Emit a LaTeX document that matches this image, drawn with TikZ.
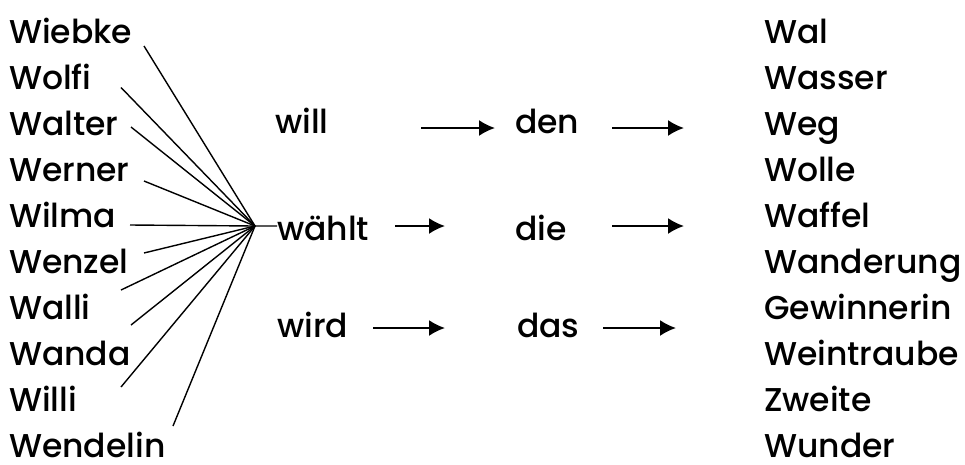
\documentclass[tikz,border=0pt]{standalone}
\usepackage{fontspec}
\setmainfont{Poppins}[UprightFont=* Medium]
\usetikzlibrary{arrows.meta,positioning}
\tikzset{font={\fontsize{33pt}{38}\selectfont}}

\begin{document}
\begin{tikzpicture}[x=1pt,y=-1pt,
word/.style={inner sep=0pt,anchor=base west},
fan/.style={line width=1.4pt},
arr/.style={line width=2pt,-{Latex[length=16pt,width=16pt]}}
]
\useasboundingbox (0,0) rectangle (965,464);
% names on the left
\foreach \n/\name [count=\i from 0] in {wiebke/Wiebke,wolfi/Wolfi,walter/Walter,werner/Werner,wilma/Wilma,wenzel/Wenzel,walli/Walli,wanda/Wanda,willi/Willi,wendelin/Wendelin}
  \node[word] (\n) at (9,{43+46*\i}) {\name};
% nouns on the right
\foreach \n/\name [count=\i from 0] in {wal/Wal,wasser/Wasser,weg/Weg,wolle/Wolle,waffel/Waffel,wanderung/Wanderung,gewinnerin/Gewinnerin,weintraube/Weintraube,zweite/Zweite,wunder/Wunder}
  \node[word] (\n) at (764,{43+46*\i}) {\name};

\node[word] (will) at (275,133) {will};
\node[word] (waehlt) at (277,240) {wählt};
\node[word] (wird) at (277,337) {wird};
\node[word] (den) at (515,133) {den};
\node[word] (die) at (515,240) {die};
\node[word] (das) at (517,337) {das};

\coordinate (hub) at (255,226);
\foreach \n/\dx/\dy in {wiebke/135/3,wolfi/112/-1.5,walter/122/-8,werner/135/0,wenzel/135/-20,walli/112/-29,wanda/122/-40,willi/112/-24,wendelin/164/-31}
  \draw[fan] ([shift={(\dx,\dy)}]\n.base west) -- (hub);
\draw[fan] ([shift={(121,-2)}]wilma.base west) -- (hub) -- (hub -| waehlt.west);

% arrows
\draw[arr] ([shift={(146,-5)}]will.base west) -- ([shift={(-20,-5)}]den.base west);
\draw[arr] ([shift={(118,-14)}]waehlt.base west) -- ([shift={(-70,-14)}]die.base west);
\draw[arr] ([shift={(96,-9)}]wird.base west) -- ([shift={(-72,-9)}]das.base west);
\coordinate (e1) at ([shift={(169,-5)}]den.base west);
\coordinate (e2) at ([shift={(169,-14)}]die.base west);
\coordinate (e3) at ([shift={(159,-9)}]das.base west);
\draw[arr] ([shift={(97,-5)}]den.base west) -- (e1);
\draw[arr] ([shift={(97,-14)}]die.base west) -- (e2);
\draw[arr] ([shift={(86,-9)}]das.base west) -- (e3);
\end{tikzpicture}
\end{document}
